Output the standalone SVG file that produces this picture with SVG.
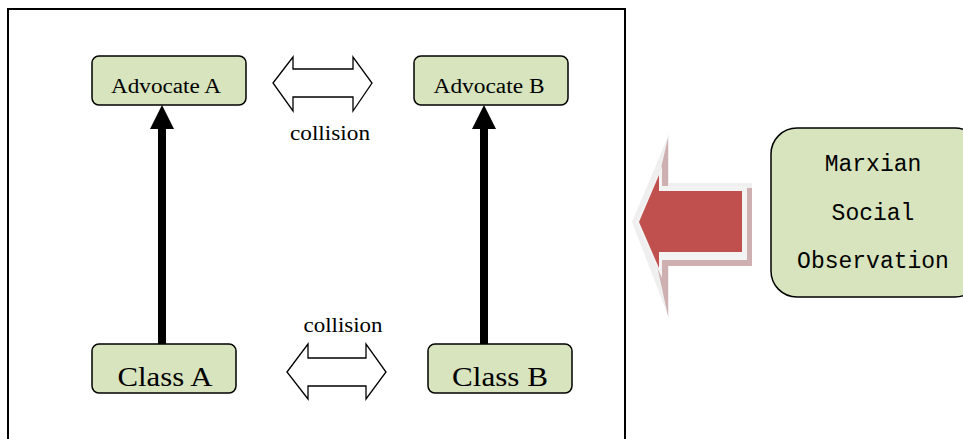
<svg xmlns="http://www.w3.org/2000/svg" width="963" height="439" viewBox="0 0 963 439">
<style>
.box{fill:#d7e4bd;stroke:#000;stroke-width:1.5}
.serif{font-family:"Liberation Serif","DejaVu Serif",serif;fill:#000;text-anchor:middle}
.mono{font-family:"Liberation Mono","DejaVu Sans Mono",monospace;fill:#000;text-anchor:middle;font-size:23px}
.dbl{fill:#fff;stroke:#000;stroke-width:1.3}
.up{fill:#000;stroke:none}
</style>
<rect width="963" height="439" fill="#fff"/>
<rect x="8" y="9" width="617" height="440" fill="none" stroke="#000" stroke-width="2"/>
<g id="connectors">
  <rect class="up" x="158" y="126" width="8" height="219"/>
  <polygon class="up" points="162,105 150,129 174,129"/>
  <rect class="up" x="480" y="126" width="8" height="219"/>
  <polygon class="up" points="484,105 472,129 496,129"/>
  <polygon class="dbl" points="273,83 293,57 293,69 353,69 353,57 372,83 353,111 353,97 293,97 293,111"/>
  <text class="serif" x="330" y="140" font-size="20" textLength="80" lengthAdjust="spacingAndGlyphs">collision</text>
  <polygon class="dbl" points="287,372 308,344 308,358 366,358 366,344 386,372 366,399 366,386 308,386 308,399"/>
  <text class="serif" x="343" y="332" font-size="20" textLength="79" lengthAdjust="spacingAndGlyphs">collision</text>
  <g id="big-arrow">
    <polygon fill="#efefef" points="632,222 669,134 669,183 752,183 752,264 669,264 669,318"/>
    <polygon fill="#cfb0b0" points="648,224 668,138 668,188 752,188 752,266 668,266 668,316"/>
    <polygon fill="#f3f3f3" points="636,222 662,166 662,186 747,186 747,260 662,260 662,278"/>
    <polygon fill="#c0504d" points="639,222 659,175 659,191 742,191 742,252 659,252 659,268"/>
  </g>
</g>
<g id="advocateA">
  <rect class="box" x="92" y="56" width="154" height="49" rx="7"/>
  <text class="serif" x="166" y="93" font-size="20" textLength="110" lengthAdjust="spacingAndGlyphs">Advocate A</text>
</g>
<g id="advocateB">
  <rect class="box" x="414" y="56" width="154" height="49" rx="7"/>
  <text class="serif" x="489" y="93" font-size="20" textLength="111" lengthAdjust="spacingAndGlyphs">Advocate B</text>
</g>
<g id="classA">
  <rect class="box" x="92" y="344" width="144" height="49" rx="7"/>
  <text class="serif" x="165" y="386" font-size="28" textLength="95" lengthAdjust="spacingAndGlyphs">Class A</text>
</g>
<g id="classB">
  <rect class="box" x="428" y="344" width="144" height="49" rx="7"/>
  <text class="serif" x="500" y="386" font-size="28" textLength="96" lengthAdjust="spacingAndGlyphs">Class B</text>
</g>
<g id="marxian">
  <rect class="box" x="771" y="128" width="210" height="169" rx="26" stroke-width="2"/>
  <text class="mono" x="873" y="171">Marxian</text>
  <text class="mono" x="873" y="220">Social</text>
  <text class="mono" x="873" y="268">Observation</text>
</g>
</svg>
